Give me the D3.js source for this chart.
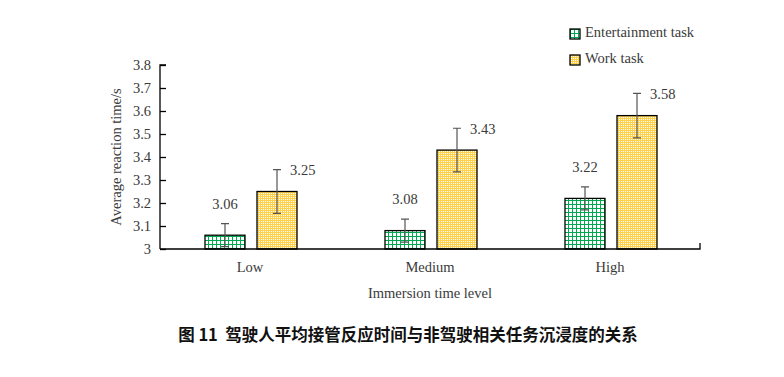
<!DOCTYPE html>
<html>
<head>
<meta charset="utf-8">
<script src="https://cdn.jsdelivr.net/npm/d3@7"></script>
<style>
  body { margin: 0; background: #fff; }
  svg text { font-family: "Liberation Serif", "Times New Roman", serif; fill: #3a3a3a; }
  .title { font-family: "Noto Sans CJK SC", sans-serif !important; font-weight: bold; fill: #111 !important; white-space: pre; }
</style>
</head>
<body>
<svg id="chart" width="784" height="377"></svg>
<script>
// data
const categories = ["Low", "Medium", "High"];
const seriesNames = ["Entertainment task", "Work task"];
const entertainment = [3.06, 3.08, 3.22];
const work = [3.25, 3.43, 3.58];
const entertainmentErr = [0.05, 0.05, 0.05];
const workErr = [0.095, 0.095, 0.097];
const yTicks = [3, 3.1, 3.2, 3.3, 3.4, 3.5, 3.6, 3.7, 3.8];

const FS = 14.5;
const svg = d3.select("#chart");
const M = { left: 160, right: 700, top: 65, bottom: 249 };

const x = d3.scaleBand().domain(categories).range([M.left, M.right]);
const y = d3.scaleLinear().domain([3, 3.8]).range([M.bottom, M.top]);

// fill patterns
const defs = svg.append("defs");
const grid = defs.append("pattern").attr("id", "grid")
  .attr("patternUnits", "userSpaceOnUse").attr("width", 4).attr("height", 4);
grid.append("rect").attr("width", 4).attr("height", 4).attr("fill", "#fff");
grid.append("path").attr("d", "M0,0.5H4M0.5,0V4").attr("stroke", "#00a851").attr("stroke-width", 1.3)
  .attr("shape-rendering", "crispEdges");

const dots = defs.append("pattern").attr("id", "dots")
  .attr("patternUnits", "userSpaceOnUse").attr("width", 2).attr("height", 2);
dots.append("rect").attr("width", 2).attr("height", 2).attr("fill", "#ffd04a").attr("shape-rendering", "crispEdges");
dots.append("rect").attr("x", 1).attr("y", 1).attr("width", 1).attr("height", 1).attr("fill", "#ffffff")
  .attr("shape-rendering", "crispEdges");

const fills = ["url(#grid)", "url(#dots)"];

const rows = categories.map((c, i) => ({
  cat: c,
  vals: [
    { s: 0, v: entertainment[i], e: entertainmentErr[i] },
    { s: 1, v: work[i], e: workErr[i] }
  ]
}));

const barW = 40;
const offsets = [-45, 7];

// bars
const g = svg.append("g");
rows.forEach(r => {
  const cx = x(r.cat) + x.bandwidth() / 2;
  r.vals.forEach(d => {
    const bx = cx + offsets[d.s];
    g.append("rect")
      .attr("x", bx).attr("y", y(d.v))
      .attr("width", barW).attr("height", y(3) - y(d.v))
      .attr("fill", fills[d.s]).attr("stroke", "#000").attr("stroke-width", 1.3);

    // error bars
    const ex = bx + barW / 2;
    g.append("path")
      .attr("d", `M${ex - 4},${y(d.v + d.e)}H${ex + 4}M${ex},${y(d.v + d.e)}V${y(d.v - d.e)}M${ex - 4},${y(d.v - d.e)}H${ex + 4}`)
      .attr("stroke", "#555").attr("stroke-width", 1.2).attr("fill", "none");

    // value labels
    if (d.s === 0) {
      g.append("text").attr("x", ex).attr("y", y(d.v + d.e) - 18)
        .attr("text-anchor", "middle").attr("dominant-baseline", "middle")
        .attr("font-size", FS).text(d.v.toFixed(2));
    } else {
      g.append("text").attr("x", ex + 13).attr("y", y(d.v + d.e) + 2)
        .attr("dominant-baseline", "middle")
        .attr("font-size", FS).text(d.v.toFixed(2));
    }
  });
});

// y axis (ticks pointing inward)
const yAxis = svg.append("g").attr("transform", `translate(${M.left},0)`)
  .call(d3.axisRight(y).tickValues(yTicks).tickSize(6).tickFormat(d3.format("")));
yAxis.select(".domain").attr("stroke", "#000").attr("stroke-width", 1.3).attr("d", `M6,${M.top}H0V${M.bottom}`);
yAxis.selectAll(".tick line").attr("stroke", "#000").attr("stroke-width", 1.3);
yAxis.selectAll(".tick text").attr("x", -9).attr("text-anchor", "end")
  .attr("font-size", FS).attr("font-family", "Liberation Serif").attr("fill", "#3a3a3a");

// x axis
const xAxis = svg.append("g").attr("transform", `translate(0,${M.bottom})`)
  .call(d3.axisBottom(x).tickSize(0).tickPadding(13));
xAxis.select(".domain").attr("stroke", "#000").attr("stroke-width", 1.3)
  .attr("d", `M${M.left},0H${M.right}V-6`);
xAxis.selectAll(".tick text").attr("font-size", FS)
  .attr("font-family", "Liberation Serif").attr("fill", "#3a3a3a");

// axis titles
svg.append("text").attr("x", 430).attr("y", 298).attr("text-anchor", "middle")
  .attr("font-size", FS).text("Immersion time level");
svg.append("text").attr("transform", `translate(121,${(M.top + M.bottom) / 2}) rotate(-90)`)
  .attr("text-anchor", "middle").attr("font-size", FS).text("Average reaction time/s");

// legend
const legend = svg.append("g").attr("transform", "translate(570,29)");
seriesNames.forEach((n, i) => {
  const lg = legend.append("g").attr("transform", `translate(0,${i * 26})`);
  lg.append("rect").attr("width", 10).attr("height", 10)
    .attr("fill", fills[i]).attr("stroke", "#000").attr("stroke-width", 1.3);
  lg.append("text").attr("x", 15).attr("y", 5).attr("dominant-baseline", "middle")
    .attr("font-size", FS).text(n);
});

// figure caption
svg.append("text").attr("class", "title").attr("x", 408).attr("y", 337)
  .attr("text-anchor", "middle").attr("dominant-baseline", "middle")
  .attr("font-size", 16.5).text("图 11  驾驶人平均接管反应时间与非驾驶相关任务沉浸度的关系");
</script>
</body>
</html>
